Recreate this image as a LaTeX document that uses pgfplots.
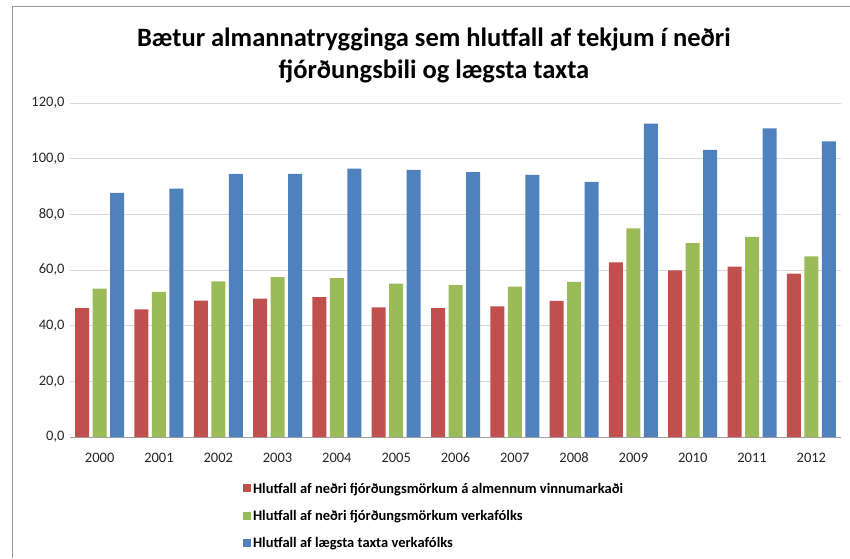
\documentclass[border=0pt]{standalone}
\usepackage{pgfplots}
\pgfplotsset{compat=1.18}
\usepackage{fontspec}
\setmainfont{Carlito}
\definecolor{cRed}{HTML}{C0504D}
\definecolor{cGreen}{HTML}{9BBB59}
\definecolor{cBlue}{HTML}{4F81BD}
\definecolor{gridc}{HTML}{D9D9D9}
\definecolor{framec}{HTML}{9C9C9C}
\begin{document}
\begin{tikzpicture}
\begin{axis}[
  at={(70pt,121pt)}, anchor=south west,
  width=771pt, height=334pt, scale only axis,
  ybar=3.5pt, bar width=14pt,
  xmin=-0.5, xmax=12.5, ymin=0, ymax=120,
  xtick={0,...,12},
  xticklabels={2000,2001,2002,2003,2004,2005,2006,2007,2008,2009,2010,2011,2012},
  ytick={0,20,...,120},
  ymajorgrids, grid style={gridc, line width=0.8pt},
  axis x line*=bottom, axis y line*=left,
  x axis line style={color=gray!75, line width=0.8pt, -},
  y axis line style={draw=none},
  tick style={draw=none},
  /pgf/number format/assume math mode=true,
  y tick label style={/pgf/number format/fixed, /pgf/number format/fixed zerofill,
    /pgf/number format/precision=1, /pgf/number format/use comma},
  tick label style={font=\fontsize{14.5}{16}\selectfont, color=black!85},
  xticklabel style={yshift=-8pt},
  yticklabel style={xshift=-2pt},
  title={Bætur almannatrygginga sem hlutfall af tekjum í neðri\\fjórðungsbili og lægsta taxta},
  title style={font=\bfseries\fontsize{26.5}{32}\selectfont, align=center,
    at={(axis description cs:0.472,1)}, anchor=south, inner sep=0pt, yshift=14pt},
  legend style={at={(axis description cs:0.2203,-0.125)}, anchor=north west,
    draw=none, fill=none, font=\bfseries\fontsize{14.5}{16}\selectfont, row sep=11.5pt},
  legend cell align=left,
  legend image code/.code={\path[#1,draw=none] (0pt,-3.5pt) rectangle (8pt,4.5pt);},
]
\addplot[fill=cRed, draw=none] coordinates {
(0,46.3) (1,45.9) (2,49.0) (3,49.7) (4,50.3) (5,46.6) (6,46.3)
(7,46.9) (8,48.9) (9,62.7) (10,59.9) (11,61.2) (12,58.7)};
\addlegendentry{Hlutfall af neðri fjórðungsmörkum á almennum vinnumarkaði}
\addplot[fill=cGreen, draw=none] coordinates {
(0,53.3) (1,52.1) (2,55.9) (3,57.4) (4,57.1) (5,55.1) (6,54.6)
(7,54.0) (8,55.7) (9,75.0) (10,69.7) (11,71.9) (12,64.9)};
\addlegendentry{Hlutfall af neðri fjórðungsmörkum verkafólks}
\addplot[fill=cBlue, draw=none] coordinates {
(0,87.7) (1,89.2) (2,94.5) (3,94.5) (4,96.4) (5,96.0) (6,95.2)
(7,94.2) (8,91.7) (9,112.6) (10,103.2) (11,110.9) (12,106.2)};
\addlegendentry{Hlutfall af lægsta taxta verkafólks}
\end{axis}
\draw[framec, line width=1pt] (12pt,0pt) -- (12pt,551pt) -- (850pt,551pt);
\pgfresetboundingbox
\path (0pt,0pt) rectangle (850pt,558pt);
\end{tikzpicture}
\end{document}
